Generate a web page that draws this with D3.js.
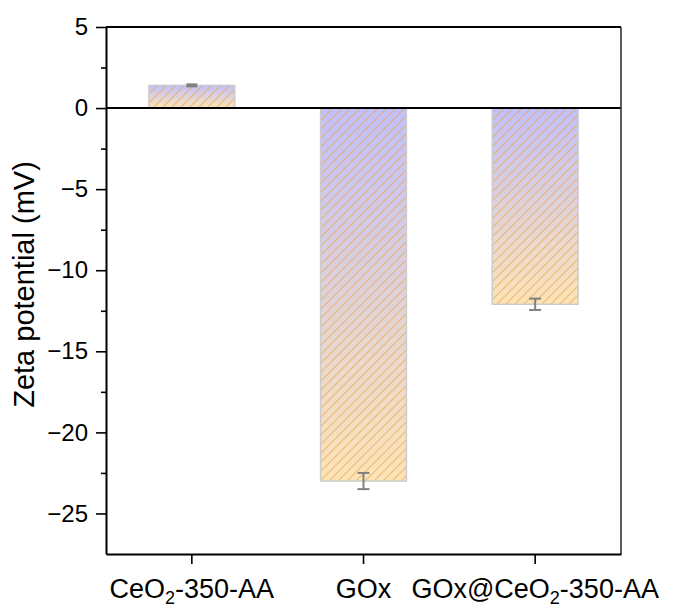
<!DOCTYPE html>
<html>
<head>
<meta charset="utf-8">
<script src="https://cdn.jsdelivr.net/npm/d3@7"></script>
<style>
  html, body { margin: 0; padding: 0; background: #fff; }
  svg { display: block; }
  text { font-family: "Liberation Sans", Arial, sans-serif; fill: #000; }
</style>
</head>
<body>
<script>
// values
var categories = ["CeO2-350-AA", "GOx", "GOx@CeO2-350-AA"];
var zeta = [1.4, -23.0, -12.1];
var zetaErr = [0.05, 0.5, 0.35];
var yTicks = [5, 0, -5, -10, -15, -20, -25];
var yMinor = [2.5, -2.5, -7.5, -12.5, -17.5, -22.5];

var W = 679, H = 608;
var mLeft = 106, mRight = 621, mTop = 27, mBottom = 554;

var svg = d3.select("body").append("svg").attr("width", W).attr("height", H);
var defs = svg.append("defs");

var x = d3.scaleBand().domain(categories).range([mLeft, mRight]).paddingInner(0.5).paddingOuter(0.25);
var y = d3.scaleLinear().domain([-27.5, 5]).range([mBottom, mTop]);

// gradient lavender -> light orange, per bar
var grad = defs.append("linearGradient").attr("id", "barGrad")
  .attr("x1", 0).attr("y1", 0).attr("x2", 0).attr("y2", 1);
grad.append("stop").attr("offset", "0%").attr("stop-color", "#c0c0fc");
grad.append("stop").attr("offset", "100%").attr("stop-color", "#fce4b8");

// hatch
var hw = 9;
var pat = defs.append("pattern").attr("id", "hatch")
  .attr("patternUnits", "userSpaceOnUse").attr("width", hw).attr("height", hw);
pat.append("path")
  .attr("d", "M0," + hw + " L" + hw + ",0 M" + (-hw / 2) + "," + (hw / 2) + " L" + (hw / 2) + "," + (-hw / 2) +
        " M" + (hw / 2) + "," + (hw * 1.5) + " L" + (hw * 1.5) + "," + (hw / 2))
  .attr("stroke", "#f0a040").attr("stroke-opacity", 0.65).attr("stroke-width", 1.1);

var bars = svg.append("g");
categories.forEach(function (c, i) {
  var y0 = y(Math.max(0, zeta[i])), y1 = y(Math.min(0, zeta[i]));
  bars.append("rect").attr("x", x(c)).attr("y", y0)
    .attr("width", x.bandwidth()).attr("height", y1 - y0)
    .attr("fill", "url(#barGrad)");
  bars.append("rect").attr("x", x(c)).attr("y", y0)
    .attr("width", x.bandwidth()).attr("height", y1 - y0)
    .attr("fill", "url(#hatch)")
    .attr("stroke", "#cccccc").attr("stroke-width", 1.5);
});

// error bars
var eb = svg.append("g").attr("stroke", "#808080").attr("stroke-width", 2).attr("fill", "none");
categories.forEach(function (c, i) {
  var cx = x(c) + x.bandwidth() / 2;
  var lo = y(zeta[i] - zetaErr[i]), hi = y(zeta[i] + zetaErr[i]);
  if (lo - hi < 3) {
    eb.append("rect").attr("x", cx - 5.5).attr("y", hi - 1.2).attr("width", 11).attr("height", lo - hi + 2.4)
      .attr("fill", "#808080").attr("stroke", "none");
  } else {
    eb.append("line").attr("x1", cx).attr("x2", cx).attr("y1", hi).attr("y2", lo);
    eb.append("line").attr("x1", cx - 6).attr("x2", cx + 6).attr("y1", hi).attr("y2", hi);
    eb.append("line").attr("x1", cx - 6).attr("x2", cx + 6).attr("y1", lo).attr("y2", lo);
  }
});

// zero line
svg.append("line").attr("x1", mLeft).attr("x2", mRight).attr("y1", y(0)).attr("y2", y(0))
  .attr("stroke", "#000").attr("stroke-width", 2);

// frame top / right
svg.append("line").attr("x1", mLeft).attr("x2", mRight).attr("y1", mTop).attr("y2", mTop)
  .attr("stroke", "#000").attr("stroke-width", 2);
svg.append("line").attr("x1", mRight).attr("x2", mRight).attr("y1", mTop).attr("y2", mBottom)
  .attr("stroke", "#333").attr("stroke-width", 1.6);

// y axis
var yAx = svg.append("g").attr("transform", "translate(" + mLeft + ",0)")
  .call(d3.axisLeft(y).tickValues(yTicks).tickSize(10).tickSizeOuter(0).tickPadding(8).tickFormat(d3.format("d")));
yAx.selectAll(".tick text").attr("font-size", 24).attr("font-family", "Liberation Sans, Arial, sans-serif").attr("fill", "#000");
svg.append("g").attr("transform", "translate(" + mLeft + ",0)")
  .call(d3.axisLeft(y).tickValues(yMinor).tickSize(5).tickFormat(""))
  .select(".domain").remove();

// x axis
svg.append("g").attr("transform", "translate(0," + mBottom + ")")
  .call(d3.axisBottom(x).tickSize(10).tickSizeOuter(0).tickFormat(""));
svg.selectAll(".domain").attr("stroke-width", 2).attr("stroke", "#000");
svg.selectAll(".tick line").attr("stroke-width", 1.6).attr("stroke", "#000");

// category labels with subscript 2
categories.forEach(function (c) {
  var t = svg.append("text").attr("x", x(c) + x.bandwidth() / 2).attr("y", 598)
    .attr("text-anchor", "middle").attr("font-size", 27);
  var parts = c.split("O2");
  if (parts.length === 1) {
    t.text(c);
  } else {
    t.append("tspan").text(parts[0] + "O");
    t.append("tspan").text("2").attr("font-size", 18).attr("dy", 6);
    t.append("tspan").text(parts[1]).attr("dy", -6);
  }
});

// y title
svg.append("text")
  .attr("transform", "translate(34," + ((mTop + mBottom) / 2 - 6) + ") rotate(-90)")
  .attr("text-anchor", "middle").attr("font-size", 29)
  .text("Zeta potential (mV)");
</script>
</body>
</html>
